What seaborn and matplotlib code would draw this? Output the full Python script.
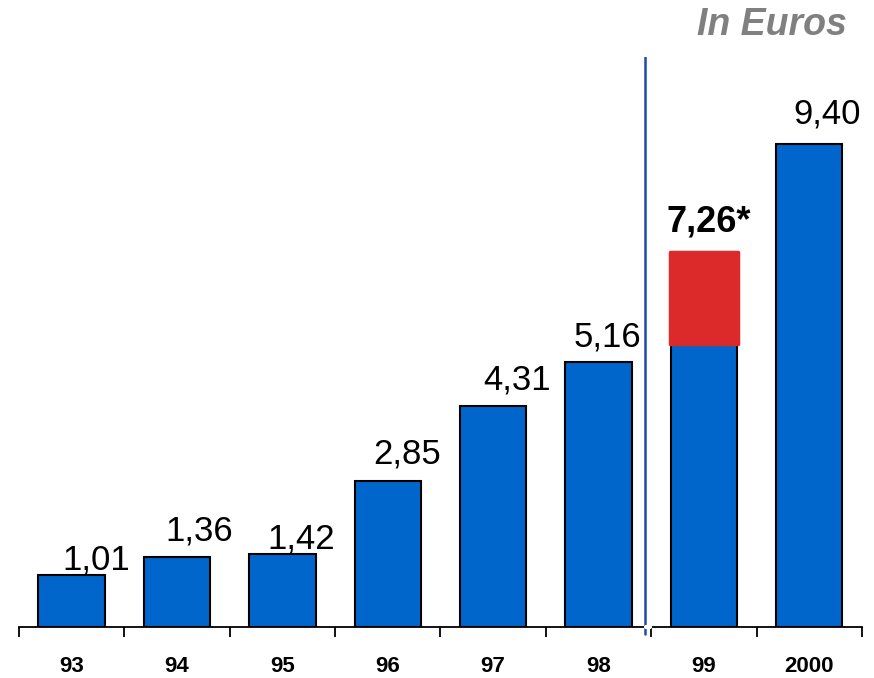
import numpy as np
import pandas as pd
import seaborn as sns
from matplotlib import pyplot as plt

# data
years = ["93", "94", "95", "96", "97", "98", "99", "2000"]
blue_values = [1.01, 1.36, 1.42, 2.85, 4.31, 5.16, 5.52, 9.40]
labels = ["1,01", "1,36", "1,42", "2,85", "4,31", "5,16", "7,26*", "9,40"]
estimate_year = "99"
estimate_total = 7.30

# label nudges in pixels (x right, y up from bar top)
label_dx = [25, 22, 19, 19, 24, 9, 5, 18]
label_dy = [6, 17, 6, 17, 16, 16, 21, 21]

blue = "#0066cc"
red = "#dc2a2a"

sns.set_theme(style="white")
plt.rcParams["font.family"] = ["Liberation Sans", "DejaVu Sans"]

df = pd.DataFrame({"year": years, "value": blue_values})

fig = plt.figure(figsize=(8.74, 6.78), dpi=100)
ax = fig.add_axes([0.0217, 0.0752, 0.9645, 0.8407])

sns.barplot(data=df, x="year", y="value", order=years, color=blue,
            saturation=1, width=0.63, edgecolor="black", linewidth=1.5, ax=ax)

# red estimate segment on top of 99
i99 = years.index(estimate_year)
ax.bar(i99, estimate_total - blue_values[i99], bottom=blue_values[i99], width=0.64,
       color=red, edgecolor=red, linewidth=2.5, joinstyle="round", zorder=3)

# value labels
px = 72 / fig.dpi
for i, (lab, v) in enumerate(zip(labels, blue_values)):
    top = estimate_total if years[i] == estimate_year else v
    if lab.endswith("*"):
        ax.annotate(lab, (i, top), xytext=(label_dx[i] * px, label_dy[i] * px),
                    textcoords="offset points", ha="center", va="baseline",
                    fontsize=26, fontweight="bold", color="black", zorder=5)
    else:
        ax.annotate(lab, (i, top), xytext=(label_dx[i] * px, label_dy[i] * px),
                    textcoords="offset points", ha="center", va="baseline",
                    fontsize=25, color="black", zorder=5)

ax.set_xlim(-0.5, len(years) - 0.5)
ax.set_ylim(0, 11.1)

# separator between actual and estimated years
ax.axvline(5.44, ymin=0, ymax=1, color="#1f4aa8", lw=1.8, zorder=4)
ax.axvline(5.44, ymin=-0.012, ymax=0, color="#1f4aa8", lw=1.8, clip_on=False)
# small break in the axis right of the separator
ax.plot([5.455, 5.49], [0, 0], color="white", lw=3, clip_on=False, zorder=6)

for s in ["top", "right", "left"]:
    ax.spines[s].set_visible(False)
ax.spines["bottom"].set_color("black")
ax.spines["bottom"].set_linewidth(1.3)
ax.set_yticks([])
ax.set_xlabel("")
ax.set_ylabel("")

ax.set_xticks(np.arange(-0.5, len(years) + 0.5, 1), minor=True)
ax.tick_params(axis="x", which="minor", direction="out", length=7, width=1.3,
               color="black", bottom=True)
ax.tick_params(axis="x", which="major", length=0, pad=21, labelsize=16,
               labelcolor="black")
for t in ax.get_xticklabels():
    t.set_fontweight("bold")

fig.text(0.969, 0.963, "In Euros", ha="right", va="center", fontsize=27,
         fontweight="bold", fontstyle="italic", color="#808080")

fig.savefig("out.png", dpi=100)
